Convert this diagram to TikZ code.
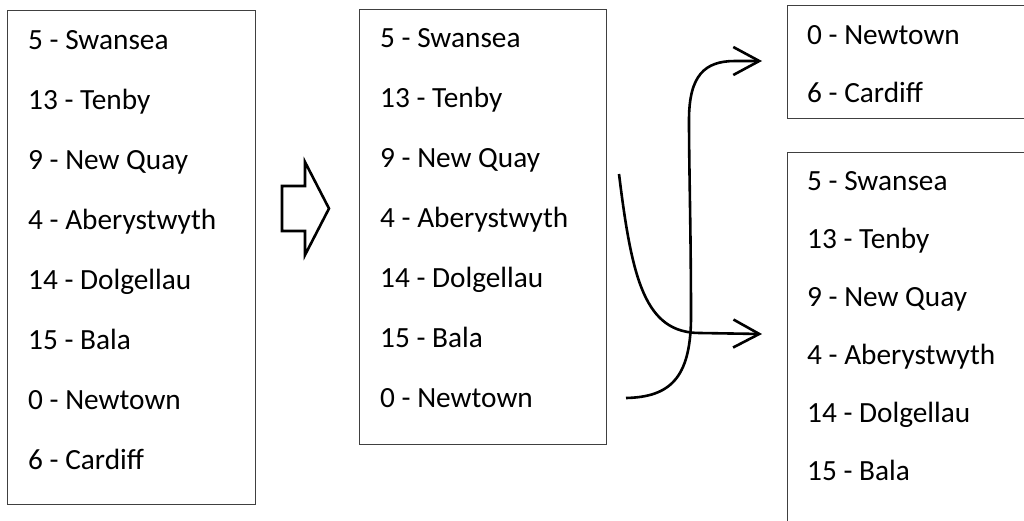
\documentclass[tikz,border=0pt]{standalone}
\usepackage{fontspec}
\setmainfont{Carlito}
\usetikzlibrary{arrows.meta}
\begin{document}
\begin{tikzpicture}[x=1pt,y=-1pt,
  listbox/.style={draw=black!75, line width=1.3pt, inner sep=0pt, anchor=north west},
  entry/.style={anchor=base west, inner sep=0pt, font=\fontsize{29.3}{35}\selectfont},
  flow/.style={line width=2.6pt, -{Straight Barb[length=26pt,width=28pt,line width=2.6pt]}},
  bigarrow/.style={line width=2.6pt, line join=miter}]
\useasboundingbox (0,0) rectangle (1024,520);
\clip (0,0) rectangle (1024,520);

% list boxes
\node[listbox, minimum width=248pt, minimum height=494pt] (full) at (7,9.5) {};
\node[listbox, minimum width=247pt, minimum height=435pt] (mid) at (359,9) {};
\node[listbox, minimum width=260pt, minimum height=113pt] (head) at (787,5) {};
\node[listbox, minimum width=260pt, minimum height=420pt] (rest) at (787,152) {};

% entries of the first list
\foreach \t [count=\i from 0] in {5 - Swansea, 13 - Tenby, 9 - New Quay, 4 - Aberystwyth,
    14 - Dolgellau, 15 - Bala, 0 - Newtown, 6 - Cardiff}
  \node[entry] (full-\i) at (28,49+60*\i) {\t};

% entries of the second list
\foreach \t [count=\i from 0] in {5 - Swansea, 13 - Tenby, 9 - New Quay, 4 - Aberystwyth,
    14 - Dolgellau, 15 - Bala, 0 - Newtown}
  \node[entry] (mid-\i) at (380,47+60*\i) {\t};

% entries of the split lists
\foreach \t [count=\i from 0] in {0 - Newtown, 6 - Cardiff}
  \node[entry] (head-\i) at (807,44+58.5*\i) {\t};
\foreach \t [count=\i from 0] in {5 - Swansea, 13 - Tenby, 9 - New Quay, 4 - Aberystwyth,
    14 - Dolgellau, 15 - Bala}
  \node[entry] (rest-\i) at (807,190+58*\i) {\t};

% block arrow between the first two lists
\draw[bigarrow] (282,186) -- (305,186) -- (305,162) -- (329,208.5)
  -- (305,255) -- (305,231) -- (282,231) -- cycle;

% curved arrows out of the second list
\coordinate (upS) at (619,174);
\coordinate (upE) at (762,334);
\coordinate (loS) at (626,398);
\coordinate (loE) at (762,61);
\draw[flow] (upS) .. controls (632,280) and (645,333) .. (700,333) -- (upE);
\draw[flow] (loS) .. controls (670,397) and (690,378) .. (691,320)
  .. controls (691,230) and (689,170) .. (689,120)
  .. controls (689,75) and (705,61) .. (735,61) -- (loE);
\end{tikzpicture}
\end{document}
